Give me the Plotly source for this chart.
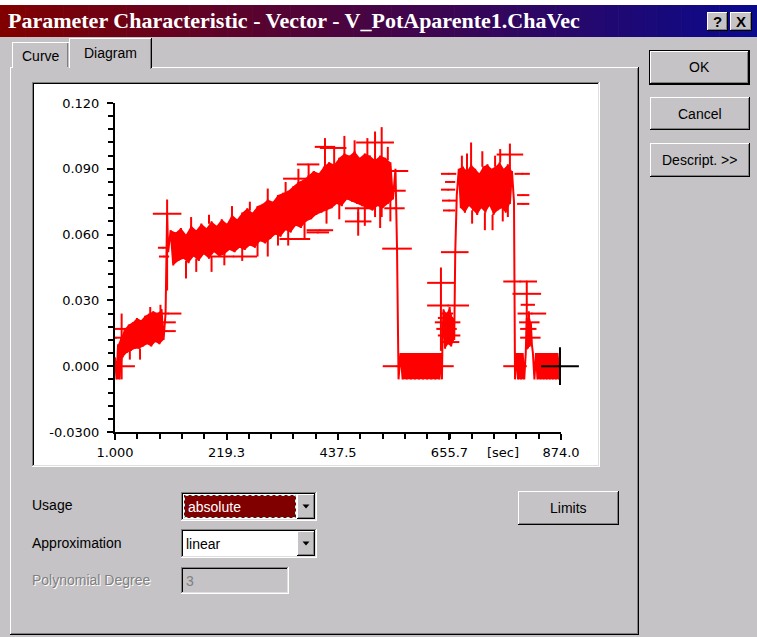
import plotly.graph_objects as go

# ---------------- data ----------------
# time [sec] / value, segment by segment
t_low = [1, 4, 7, 10, 13, 16, 20, 24, 28, 32, 36, 40, 44, 48, 52, 56, 60, 64, 68, 72,
         76, 80, 84, 88, 92, 96, 100, 103]
v_low = [0.004, -0.006, 0.010, -0.006, 0.013, 0.004, 0.017, 0.006, 0.019, 0.007,
         0.020, 0.008, 0.022, 0.008, 0.021, 0.009, 0.023, 0.010, 0.024, 0.009,
         0.025, 0.011, 0.024, 0.010, 0.026, 0.012, 0.024, 0.0695]

t_ramp = [105, 110, 115, 120, 125, 130, 135, 140, 145, 150,
          155, 160, 165, 170, 175, 180, 185, 190, 195, 200,
          205, 210, 215, 220, 225, 230, 235, 240, 245, 250,
          255, 260, 265, 270, 275, 280, 285, 290, 295, 300,
          305, 310, 315, 320, 325, 330, 335, 340, 345, 350,
          355, 360, 365, 370, 375, 380, 385, 390, 395, 400,
          405, 410, 415, 420, 425, 430, 435, 440, 445, 450,
          455, 460, 465, 470, 475, 480, 485, 490, 495, 500,
          505, 510, 515, 520, 525, 530, 535, 540, 545, 550]
v_ramp = [0.052, 0.062, 0.046, 0.061, 0.048, 0.063, 0.049, 0.060, 0.047, 0.064,
          0.050, 0.062, 0.048, 0.065, 0.051, 0.063, 0.049, 0.066, 0.052, 0.064,
          0.050, 0.067, 0.051, 0.065, 0.053, 0.069, 0.052, 0.067, 0.054, 0.070,
          0.053, 0.072, 0.055, 0.070, 0.054, 0.073, 0.057, 0.074, 0.056, 0.076,
          0.058, 0.075, 0.060, 0.078, 0.059, 0.079, 0.062, 0.080, 0.061, 0.082,
          0.064, 0.084, 0.063, 0.085, 0.066, 0.087, 0.067, 0.089, 0.069, 0.088,
          0.070, 0.091, 0.071, 0.093, 0.072, 0.092, 0.074, 0.095, 0.073, 0.097,
          0.076, 0.096, 0.075, 0.098, 0.074, 0.095, 0.073, 0.097, 0.072, 0.096,
          0.071, 0.094, 0.073, 0.096, 0.072, 0.095, 0.074, 0.093, 0.076, 0.090]

t_drop = [553, 555]
v_drop = [0.054, 0.006]

t_off1 = [556, 560, 564, 568, 572, 576, 580, 584, 588, 592, 596, 600, 604, 608, 612,
          616, 620, 624, 628, 632, 636, 639, 641]
v_off1 = [-0.006, 0.006, -0.006, 0.006, -0.006, 0.006, -0.006, 0.006, -0.006, 0.006,
          -0.006, 0.006, -0.006, 0.006, -0.006, 0.006, -0.006, 0.006, -0.006, 0.006,
          -0.006, 0.006, -0.006]

t_dip = [642, 644, 647, 650, 653, 656, 659, 662, 665, 667]
v_dip = [0.012, 0.026, 0.008, 0.024, 0.010, 0.027, 0.009, 0.022, 0.012, 0.052]

t_on = [670, 674, 678, 682, 686, 690, 694, 698, 702, 706, 710, 714, 718, 722, 726,
        730, 734, 738, 742, 746, 750, 754, 758, 762, 766, 770, 774, 778, 782]
v_on = [0.078, 0.090, 0.072, 0.091, 0.070, 0.089, 0.073, 0.092, 0.071, 0.090,
        0.069, 0.088, 0.072, 0.091, 0.070, 0.092, 0.073, 0.090, 0.069, 0.091,
        0.071, 0.093, 0.072, 0.090, 0.070, 0.092, 0.074, 0.089, 0.075]

t_off2 = [784, 787, 790, 793, 796, 799, 802, 805]
v_off2 = [-0.006, 0.006, -0.006, 0.006, -0.006, 0.006, -0.006, 0.006]

t_bump = [807, 809, 811, 813, 815, 817, 819]
v_bump = [0.022, 0.008, 0.025, 0.009, 0.020, 0.010, 0.006]

t_off3 = [822, 825, 828, 831, 834, 837, 840, 843, 846, 849, 852, 855, 858, 861, 864,
          867, 870, 872]
v_off3 = [-0.006, 0.006, -0.006, 0.006, -0.006, 0.006, -0.006, 0.006, -0.006,
          0.006, -0.006, 0.006, -0.006, 0.006, -0.006, 0.006, -0.006, 0.006]

# cross markers (centre time, centre value, half width [sec], arm up, arm down)
cross_t = [6, 14, 3, 105, 100, 102, 103, 95, 97, 233, 412, 353, 398, 379, 510, 523, 428,
           545, 548, 548, 477, 477, 402, 353, 477, 553, 553, 640, 639, 653, 666, 652,
           650, 655, 648, 657, 651, 654, 653, 655, 655, 657, 774, 698, 798, 800, 800,
           794, 807, 807, 817, 784, 812, 810, 814, 809]
cross_v = [0.000, 0.017, 0.013, 0.024, 0.020, 0.016, 0.0695, 0.054, 0.050, 0.050, 0.100,
           0.0855, 0.061, 0.092, 0.102, 0.095, 0.0995, 0.089, 0.080, 0.072, 0.072, 0.066,
           0.062, 0.058, 0.070, 0.0536, 0.000, 0.000, 0.038, 0.0277, 0.052, 0.020, 0.017,
           0.014, 0.022, 0.011, 0.024, 0.0877, 0.0805, 0.0755, 0.071, 0.084, 0.0965,
           0.090, 0.0877, 0.078, 0.074, 0.0386, 0.0386, 0.033, 0.024, 0.000, 0.020,
           0.017, 0.013, 0.028]
cross_dt = [34, 20, 12, 26, 20, 18, 28, 10, 10, 46, 20, 23, 22, 22, 37, 0, 26, 30, 22, 20,
            26, 26, 26, 30, 0, 29, 28, 24, 27, 41, 27, 25, 20, 22, 15, 18, 12, 15, 14,
            14, 12, 10, 26, 0, 15, 12, 12, 33, 0, 28, 28, 23, 20, 16, 20, 14]
cross_up = [0, 0.007, 0, 0, 0, 0, 0.0065, 0, 0, 0, 0.004, 0, 0, 0, 0.005, 0.014, 0, 0, 0,
            0, 0, 0, 0, 0, 0, 0, 0, 0, 0.007, 0, 0, 0, 0, 0, 0, 0, 0, 0, 0, 0, 0, 0,
            0.005, 0.012, 0, 0, 0, 0, 0, 0, 0, 0, 0, 0, 0, 0]
cross_dn = [0, 0.023, 0, 0, 0, 0, 0.035, 0, 0, 0, 0.010, 0, 0, 0, 0.034, 0.027, 0, 0, 0,
            0, 0.006, 0, 0, 0, 0.0105, 0, 0, 0, 0.031, 0, 0, 0, 0, 0, 0, 0, 0, 0, 0, 0,
            0, 0, 0.010, 0, 0, 0, 0, 0, 0.031, 0, 0, 0, 0, 0, 0, 0]

# short vertical spikes on the edges of the noisy bands (time, value, arm up, arm down)
spike_t = [30, 50, 70, 90,
           140, 160, 190, 215, 250, 280, 300, 320, 340, 372, 415, 440, 490, 520, 540,
           150, 185, 230, 265, 300, 335, 360, 380, 430, 450, 470, 495, 535,
           680, 690, 720, 745, 755, 700, 725, 760, 740, 770]
spike_v = [0.007, 0.008, 0.024, 0.025,
           0.048, 0.049, 0.050, 0.052, 0.055, 0.057, 0.058, 0.061, 0.063, 0.066, 0.072,
           0.075, 0.073, 0.073, 0.076,
           0.063, 0.065, 0.068, 0.071, 0.075, 0.079, 0.083, 0.086, 0.092, 0.096, 0.097,
           0.096, 0.094,
           0.090, 0.089, 0.091, 0.091, 0.093, 0.071, 0.070, 0.072, 0.069, 0.074]
spike_up = [0, 0, 0.003, 0.003,
            0, 0, 0, 0, 0, 0, 0, 0, 0, 0, 0, 0, 0, 0, 0,
            0.005, 0.004, 0.005, 0.004, 0.006, 0.005, 0.007, 0.006, 0.008, 0.009, 0.006,
            0.008, 0.006,
            0.006, 0.008, 0.007, 0.005, 0.006, 0, 0, 0, 0, 0]
spike_dn = [0.004, 0.005, 0, 0,
            0.008, 0.006, 0.007, 0.006, 0.007, 0.007, 0.008, 0.006, 0.008, 0.008, 0.007,
            0.008, 0.009, 0.010, 0.010,
            0, 0, 0, 0, 0, 0, 0, 0, 0, 0, 0, 0, 0,
            0, 0, 0, 0, 0, 0.006, 0.008, 0.006, 0.007, 0.006]

cursor_t = [872]
cursor_v = [0.000]

x_tickvals = [1.0, 219.3, 437.5, 655.7, 874.0]
x_ticktext = ["1.000", "219.3", "437.5", "655.7", "874.0"]
y_tickvals = [-0.03, 0.0, 0.03, 0.06, 0.09, 0.12]
y_ticktext = ["-0.0300", "0.000", "0.030", "0.060", "0.090", "0.120"]

# ---------------- figure ----------------
W, H = 757, 637
GRAY = "#C5C3C6"
DGRAY = "#808080"
LGRAY = "#DFDFDF"
RED = "#FF0000"
UI_FONT = "Liberation Sans"

segments = [(t_low, v_low), (t_ramp, v_ramp), (t_drop, v_drop), (t_off1, v_off1),
            (t_dip, v_dip), (t_on, v_on), (t_off2, v_off2), (t_bump, v_bump),
            (t_off3, v_off3)]

fig = go.Figure()

# solid core of each noisy stretch: polygon through its local maxima and minima
for ts, vs in segments:
    hi, lo = [], []
    for i in range(1, len(vs) - 1):
        if vs[i] >= vs[i - 1] and vs[i] >= vs[i + 1]:
            hi.append((ts[i], vs[i]))
        elif vs[i] <= vs[i - 1] and vs[i] <= vs[i + 1]:
            lo.append((ts[i], vs[i]))
    if len(hi) >= 2 and len(lo) >= 2:
        poly = hi + lo[::-1]
        fig.add_trace(go.Scatter(x=[p[0] for p in poly], y=[p[1] for p in poly],
                                 mode="lines", fill="toself", fillcolor=RED,
                                 line=dict(width=0, color=RED), hoverinfo="skip"))

t_all = [t for ts, _ in segments for t in ts]
v_all = [v for _, vs in segments for v in vs]
fig.add_trace(go.Scatter(x=t_all, y=v_all, mode="lines",
                         line=dict(color=RED, width=2), hoverinfo="skip"))
fig.add_trace(go.Scatter(
    x=spike_t, y=spike_v, mode="markers", marker=dict(size=1, color=RED),
    error_y=dict(type="data", array=spike_up, arrayminus=spike_dn, symmetric=False,
                 width=0, thickness=2, color=RED),
    hoverinfo="skip"))
fig.add_trace(go.Scatter(
    x=cross_t, y=cross_v, mode="markers", cliponaxis=False,
    marker=dict(size=2, color=RED),
    error_x=dict(type="data", array=cross_dt, symmetric=True, width=0,
                 thickness=2, color=RED),
    error_y=dict(type="data", array=cross_up, arrayminus=cross_dn, symmetric=False,
                 width=0, thickness=2, color=RED),
    hoverinfo="skip"))
# current point cursor (black cross)
fig.add_trace(go.Scatter(
    x=cursor_t, y=cursor_v, mode="markers", cliponaxis=False,
    marker=dict(symbol="cross-thin", size=27, color="black",
                line=dict(color="black", width=2)),
    hoverinfo="skip"))

shapes = []
annotations = []


def fx(x):
    return x / W


def fy(y):
    return 1 - y / H


def rect(x0, y0, x1, y1, fill):
    shapes.append(dict(type="rect", xref="paper", yref="paper",
                       x0=fx(x0), x1=fx(x1), y0=fy(y1), y1=fy(y0),
                       fillcolor=fill, line=dict(width=0), layer="below"))


def raised(x0, y0, x1, y1, default=False):
    if default:
        rect(x0, y0, x1, y1, "black")
        x0, y0, x1, y1 = x0 + 1, y0 + 1, x1 - 1, y1 - 1
    rect(x0, y0, x1, y1, "black")
    rect(x0, y0, x1 - 1, y1 - 1, "white")
    rect(x0 + 1, y0 + 1, x1 - 1, y1 - 1, DGRAY)
    rect(x0 + 1, y0 + 1, x1 - 2, y1 - 2, GRAY)


def sunken(x0, y0, x1, y1, fill):
    rect(x0, y0, x1, y1, "white")
    rect(x0, y0, x1 - 1, y1 - 1, DGRAY)
    rect(x0 + 1, y0 + 1, x1 - 1, y1 - 1, LGRAY)
    rect(x0 + 1, y0 + 1, x1 - 2, y1 - 2, "black")
    rect(x0 + 2, y0 + 2, x1 - 2, y1 - 2, fill)


def text(x, y, s, size=14, color="black", anchor="left", family=UI_FONT, bold=False):
    if bold:
        s = "<b>" + s + "</b>"
    annotations.append(dict(xref="paper", yref="paper", x=fx(x), y=fy(y), text=s,
                            showarrow=False, xanchor=anchor, yanchor="middle",
                            font=dict(family=family, size=size, color=color)))


# window top strip and title bar gradient
rect(0, 0, W, 5, "white")
n = 60
c0 = (128, 0, 0)
c1 = (10, 10, 140)
for i in range(n):
    f = i / (n - 1)
    col = "rgb(%d,%d,%d)" % tuple(round(c0[k] + (c1[k] - c0[k]) * f) for k in range(3))
    rect(W * i / n, 5, W * (i + 1) / n + 0.6, 37, col)
text(6, 21, "Parameter Characteristic - Vector - V_PotAparente1.ChaVec", size=22,
     color="white", family="Liberation Serif", bold=True)
raised(707, 12, 728, 31)
raised(730, 12, 752, 31)
text(717.5, 21.5, "?", size=15, bold=True, anchor="center")
text(741, 21.5, "X", size=15, bold=True, anchor="center")

# tab page
rect(10, 67, 639, 635, "black")
rect(10, 67, 638, 634, "white")
rect(11, 68, 638, 634, DGRAY)
rect(11, 68, 637, 633, GRAY)

# tabs
rect(12, 42, 69, 68, "white")
rect(13, 43, 69, 68, GRAY)
rect(67, 43, 68, 67, DGRAY)
rect(69, 38, 152, 68, "black")
rect(69, 38, 151, 68, "white")
rect(70, 39, 151, 69, DGRAY)
rect(70, 39, 150, 69, GRAY)
text(41, 56, "Curve", size=14, anchor="center")
text(110, 53, "Diagram", size=14, anchor="center")

# chart panel
sunken(32, 82, 600, 467, "white")

# right buttons
raised(649, 50, 750, 85, default=True)
raised(650, 97, 750, 130)
raised(650, 143, 750, 177)
text(699.5, 67.5, "OK", size=14, anchor="center")
text(699.5, 113.5, "Cancel", size=14, anchor="center")
text(699.5, 160, "Descript. >>", size=14, anchor="center")

# bottom controls
raised(518, 491, 619, 525)
text(568.5, 508, "Limits", size=14, anchor="center")

text(30, 505, "Usage", size=14)
text(30, 543, "Approximation", size=14)
text(31, 581, "Polynomial Degree", size=14, color="white")
text(30, 580, "Polynomial Degree", size=14, color=DGRAY)

sunken(181, 492, 317, 521, "white")
rect(184, 495, 296, 518, "#800000")
shapes.append(dict(type="rect", xref="paper", yref="paper",
                   x0=fx(184.5), x1=fx(295.5), y0=fy(517.5), y1=fy(495.5),
                   line=dict(color="#A0FFFF", width=1, dash="dot"), layer="below"))
text(186, 506.5, "absolute", size=14, color="white")
raised(297, 494, 315, 519)

sunken(181, 529, 317, 558, "white")
text(184, 543.5, "linear", size=14)
raised(297, 531, 315, 556)

for cy in (506.5, 543.5):
    shapes.append(dict(type="path", xref="paper", yref="paper",
                       path="M %f %f L %f %f L %f %f Z" % (fx(302.5), fy(cy - 2), fx(309.5), fy(cy - 2),
                                                           fx(306), fy(cy + 2)),
                       fillcolor="black", line=dict(width=0), layer="below"))

sunken(181, 567, 289, 594, GRAY)
text(184, 580.5, "3", size=14, color=DGRAY)

# axis unit label
text(503, 452, "[sec]", size=13, anchor="center", family="DejaVu Sans")

tickfont = dict(family="DejaVu Sans", size=13, color="black")
fig.update_layout(
    width=W, height=H, autosize=False,
    margin=dict(l=0, r=0, t=0, b=0, pad=0, autoexpand=False),
    paper_bgcolor=GRAY, plot_bgcolor="rgba(0,0,0,0)",
    showlegend=False,
    shapes=shapes, annotations=annotations,
    xaxis=dict(domain=[fx(115), fx(561)], range=[1, 874], tickmode="array",
               tickvals=x_tickvals, ticktext=x_ticktext, ticks="outside", ticklen=6,
               tickwidth=2, tickcolor="black", showline=True, linewidth=2,
               linecolor="black", showgrid=False, zeroline=False, tickfont=tickfont,
               ticklabelstandoff=1, automargin=False,
               minor=dict(ticks="outside", ticklen=5, tickwidth=2, tickcolor="black",
                          tick0=1, dtick=43.66, showgrid=False)),
    yaxis=dict(domain=[fy(432), fy(103)], range=[-0.03, 0.12], tickmode="array",
               tickvals=y_tickvals, ticktext=y_ticktext, ticks="outside", ticklen=6,
               tickwidth=2, tickcolor="black", showline=True, linewidth=2,
               linecolor="black", showgrid=False, zeroline=False, tickfont=tickfont,
               ticklabelstandoff=5, automargin=False,
               minor=dict(ticks="outside", ticklen=5, tickwidth=2, tickcolor="black",
                          tick0=0, dtick=0.006, showgrid=False)),
)

fig.write_html("out.html", config={"displayModeBar": False})
